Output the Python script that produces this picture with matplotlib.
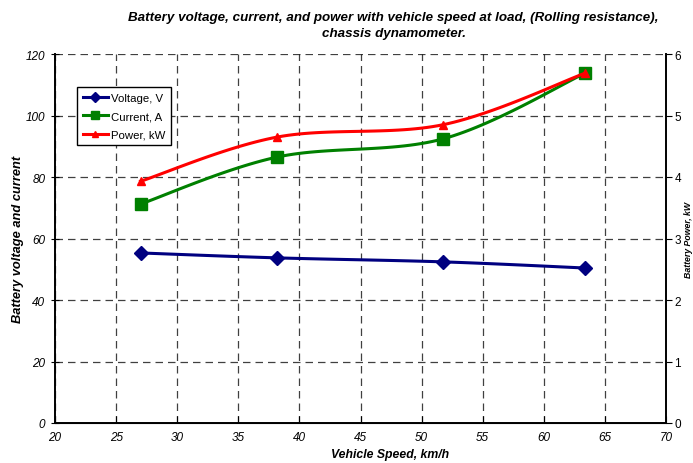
#!/usr/bin/env python

import numpy as np
import matplotlib
matplotlib.use('Agg')
import matplotlib.pyplot as plt
from matplotlib.lines import Line2D

plt.rcParams['font.family'] = ['Liberation Sans', 'DejaVu Sans']

speed = [27.0, 38.2, 51.75, 63.4]
voltage = [55.3, 53.7, 52.4, 50.4]
current = [71.2, 86.5, 92.4, 113.8]
power = [3.93, 4.65, 4.85, 5.69]


def smooth(x, y, xr, yr, n=30):
    '''
    Excel style smoothed line (Catmull-Rom, done in axes fractions).
    '''
    px = (np.asarray(x) - xr[0]) / (xr[1] - xr[0])
    py = (np.asarray(y) - yr[0]) / (yr[1] - yr[0])
    P = np.column_stack([px, py])
    P = np.vstack([P[0], P, P[-1]])
    out = []
    for i in range(1, len(P) - 2):
        p0, p1, p2, p3 = P[i - 1], P[i], P[i + 1], P[i + 2]
        c1 = p1 + (p2 - p0) / 6.0
        c2 = p2 - (p3 - p1) / 6.0
        t = np.linspace(0, 1, n)[:, None]
        b = ((1 - t) ** 3) * p1 + 3 * ((1 - t) ** 2) * t * c1 \
            + 3 * (1 - t) * t ** 2 * c2 + t ** 3 * p2
        out.append(b)
    b = np.vstack(out)
    return (b[:, 0] * (xr[1] - xr[0]) + xr[0],
            b[:, 1] * (yr[1] - yr[0]) + yr[0])


fig = plt.figure(figsize=(6.93, 4.64), dpi=100)
ax = fig.add_axes([55 / 693, 40 / 464, 611 / 693, 369 / 464])
ax2 = ax.twinx()

xr = (20, 70)
ax.set_xlim(*xr)
ax.set_ylim(0, 120)
ax2.set_ylim(0, 6)

blue, green, red = '#000080', '#008000', '#FF0000'

sx, sy = smooth(speed, voltage, xr, (0, 120))
ax.plot(sx, sy, color=blue, lw=2.2, zorder=3)
ax.plot(speed, voltage, ls='none', marker='D', ms=7, color=blue, zorder=4)

sx, sy = smooth(speed, current, xr, (0, 120))
ax.plot(sx, sy, color=green, lw=2.2, zorder=3)
ax.plot(speed, current, ls='none', marker='s', ms=8, color=green, zorder=4)

sx, sy = smooth(speed, power, xr, (0, 6))
ax2.plot(sx, sy, color=red, lw=2.2, zorder=3)
ax2.plot(speed, power, ls='none', marker='^', ms=5.5, color=red, zorder=4)

ax.set_xticks(range(20, 71, 5))
ax.set_yticks(range(0, 121, 20))
ax2.set_yticks(range(0, 7, 1))
ax.grid(True, color='black', ls=(0, (6, 4)), lw=0.9, alpha=0.75)

ax.spines['top'].set_visible(False)
ax2.spines['top'].set_visible(False)
ax2.spines['left'].set_visible(False)
ax2.spines['right'].set_linewidth(1.4)
ax.spines['left'].set_linewidth(1.4)
ax.spines['bottom'].set_linewidth(1.4)
ax.spines['right'].set_visible(False)

ax.tick_params(axis='x', direction='in', length=5, labelsize=8.5, pad=6)
ax.tick_params(axis='y', direction='inout', length=6, labelsize=8.5, pad=4)
ax2.tick_params(axis='y', direction='out', length=4, labelsize=8.5, pad=2)
for lab in ax.get_xticklabels() + ax.get_yticklabels():
    lab.set_fontstyle('italic')

fig.text(0.568, 0.962, 'Battery voltage, current, and power with vehicle speed at load, (Rolling resistance),',
         ha='center', va='center', fontsize=9.6, fontweight='bold', fontstyle='italic')
fig.text(0.568, 0.927, 'chassis dynamometer.',
         ha='center', va='center', fontsize=9.6, fontweight='bold', fontstyle='italic')
fig.text(0.026, 0.483, 'Battery voltage and current', rotation=90, ha='center', va='center',
         fontsize=9.3, fontweight='bold', fontstyle='italic')
fig.text(0.563, 0.019, 'Vehicle Speed, km/h', ha='center', va='center',
         fontsize=8.8, fontweight='bold', fontstyle='italic')
fig.text(0.9995, 0.483, 'Battery Power, kW', rotation=90, ha='right', va='center',
         fontsize=6.3, fontweight='bold', fontstyle='italic')

handles = [
    Line2D([], [], color=blue, lw=2.2, marker='D', ms=5),
    Line2D([], [], color=green, lw=2.2, marker='s', ms=6),
    Line2D([], [], color=red, lw=2.2, marker='^', ms=5),
]
leg = ax.legend(handles, ['Voltage, V', 'Current, A', 'Power, kW'],
                loc='upper left', bbox_to_anchor=(77 / 693, 1 - 88 / 464),
                bbox_transform=fig.transFigure, fontsize=8.2, frameon=True,
                fancybox=False, edgecolor='black', framealpha=1,
                handlelength=2.2, handletextpad=0.3, borderpad=0.5,
                labelspacing=0.75, borderaxespad=0)
leg.get_frame().set_linewidth(1.0)
leg.set_zorder(10)

plt.savefig('out.png', dpi=100)
